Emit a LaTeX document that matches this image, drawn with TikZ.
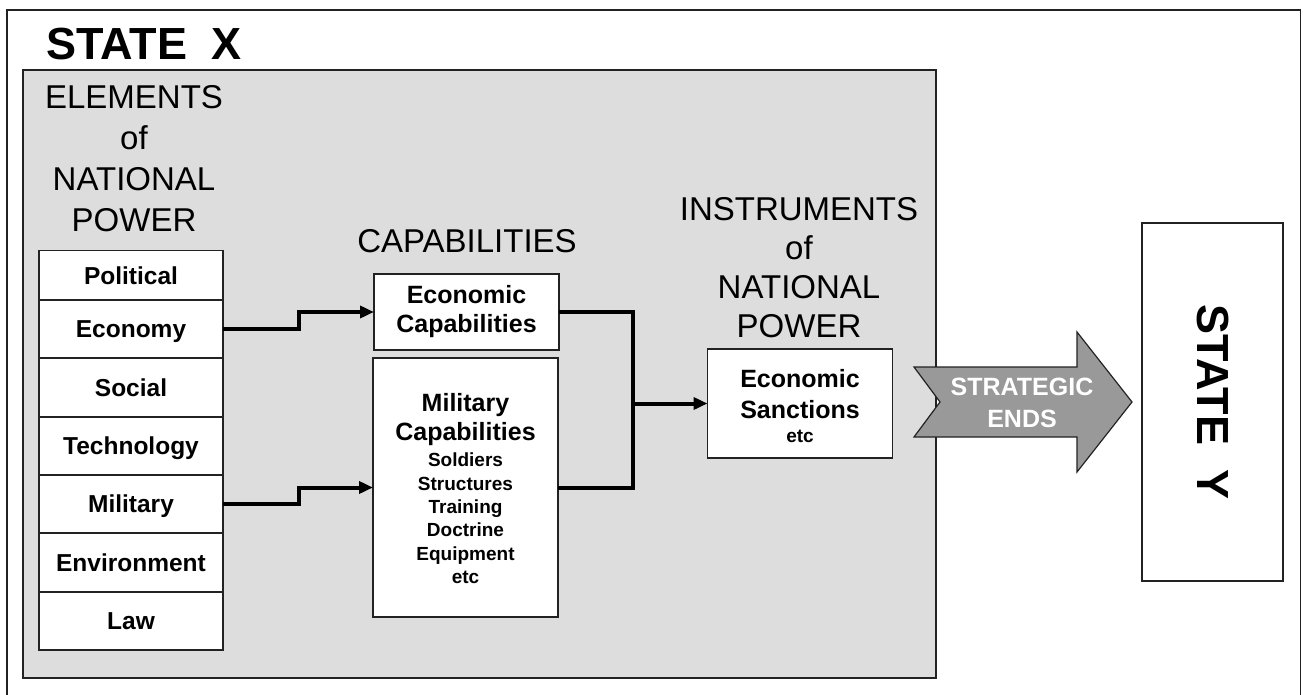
\documentclass[tikz,border=0pt]{standalone}
\usepackage{fontspec}
\setmainfont{Liberation Sans}
\usetikzlibrary{arrows.meta}
\definecolor{panelgray}{HTML}{DDDDDD}
\definecolor{arrowgray}{HTML}{999999}
\definecolor{edge}{HTML}{222222}
\begin{document}
\begin{tikzpicture}[x=1pt,y=-1pt,
  box/.style={draw=edge, line width=1.3pt, fill=white, inner sep=0pt, outer sep=0pt},
  rowbox/.style={box, minimum width=184pt, text height=17.5pt, text depth=0pt,
    font=\bfseries\fontsize{24.5}{29}\selectfont},
  hdr/.style={font=\fontsize{33}{41}\selectfont, align=center, inner sep=0pt},
  boxtitle/.style={font=\bfseries\fontsize{25}{29}\selectfont, align=center, inner sep=0pt},
  boxlist/.style={font=\bfseries\fontsize{19}{23.3}\selectfont, align=center, inner sep=0pt},
  statelbl/.style={font=\bfseries\fontsize{45}{50}\selectfont, inner sep=0pt},
  conn/.style={line width=4pt, line join=miter},
  feed/.style={conn, -{Triangle[length=14pt,width=12pt]}}
]
\useasboundingbox (0,0) rectangle (1303,695);

% outer frame (runs off the bottom of the page)
\draw[edge, line width=1.6pt] (7,695) -- (7,10) -- (1300.5,10) -- (1300.5,695);

% shaded panel for State X
\draw[draw=edge, line width=2pt, fill=panelgray] (23,70) rectangle (936,678);
\node[statelbl, anchor=base west] (stateX) at (46,60) {STATE\hspace{12pt} X};

% column headers
\node[hdr, anchor=north] (elemhdr) at (134,85) {ELEMENTS\\of\\NATIONAL\\POWER};
\node[hdr, anchor=base] (caphdr) at (467,252) {CAPABILITIES};
\node[hdr, anchor=north, font=\fontsize{33}{39}\selectfont] (insthdr) at (799,197)
  {INSTRUMENTS\\of\\NATIONAL\\POWER};

% elements of national power
\node[rowbox, minimum height=51pt] (political)   at (131,276) {Political};
\node[rowbox, minimum height=58pt] (economy)     at (131,329)   {Economy};
\node[rowbox, minimum height=59pt] (social)      at (131,387.5) {Social};
\node[rowbox, minimum height=58pt] (technology)  at (131,446)   {Technology};
\node[rowbox, minimum height=58pt] (military)    at (131,504)   {Military};
\node[rowbox, minimum height=59pt] (environment) at (131,562.5) {Environment};
\node[rowbox, minimum height=58pt] (law)         at (131,621)   {Law};

% capabilities
\node[box, minimum width=185pt, minimum height=76pt, boxtitle] (econcap) at (466.5,312)
  {Economic\\Capabilities};
\node[box, minimum width=185pt, minimum height=259pt] (milcap) at (465.5,487.5) {};
\node[boxtitle, anchor=north] (miltitle) at (465.5,393) {Military\\Capabilities};
\node[boxlist, anchor=north] (millist) at (465.5,453)
  {Soldiers\\Structures\\Training\\Doctrine\\Equipment\\etc};

% instruments
\node[box, minimum width=185pt, minimum height=109pt] (sanctions) at (800,403.5) {};
\node[boxtitle, anchor=north, font=\bfseries\fontsize{25}{31}\selectfont] (sanctitle)
  at (800,369) {Economic\\Sanctions};
\node[boxlist, anchor=base] (sancetc) at (800,442) {etc};

% State Y
\node[box, minimum width=141pt, minimum height=358pt] (stateYbox) at (1212.5,402) {};
\node[statelbl, rotate=-90] (stateY) at (stateYbox.center) {STATE\hspace{12pt} Y};

% strategic ends arrow
\draw[fill=arrowgray, draw=edge, line width=1.2pt, line join=miter]
  (914,367) -- (1077,367) -- (1077,332) -- (1132,402) -- (1077,472)
  -- (1077,437) -- (914,437) -- (940,402) -- cycle;
\node[font=\bfseries\fontsize{25}{32}\selectfont, text=white, align=center,
  inner sep=0pt, anchor=north] (ends) at (1022,378) {STRATEGIC\\ENDS};

% connectors
\coordinate (bus) at (633,403.5);
\draw[feed] (economy.east) -- ++(76,0) |- (econcap.west);
\draw[feed] (military.east) -- ++(76,0) |- (milcap.west);
\draw[conn] (econcap.east) -| (bus) |- (milcap.east);
\draw[feed] (bus) -- (sanctions.west);
\end{tikzpicture}
\end{document}
